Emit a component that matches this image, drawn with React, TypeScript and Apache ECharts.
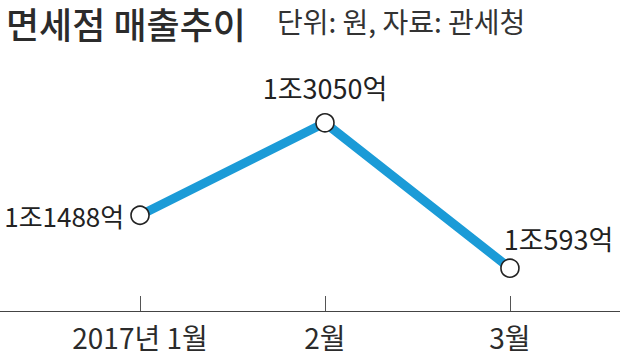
import React, { useEffect, useRef } from "react";
import * as echarts from "echarts";

const title = "면세점 매출추이";
const subtitle = "단위: 원, 자료: 관세청";
const categories = ["2017년 1월", "2월", "3월"];
const sales = [11488, 13050, 10593]; // 억원
const labelPositions = ["left", "top", "right"];

const FONT = "'Noto Sans CJK KR', sans-serif";

function fmt(v: number) {
  return `${Math.floor(v / 10000)}조${v % 10000}억`;
}

export default function App() {
  const ref = useRef<HTMLDivElement>(null);
  useEffect(() => {
    document.body.style.margin = "0";
    const chart = echarts.init(ref.current!, null, { renderer: "svg" });
    const idx = categories.map((_, i) => i);
    chart.setOption({
      animation: false,
      backgroundColor: "#ffffff",
      title: {
        text: title,
        left: 6,
        top: 4,
        padding: 0,
        textStyle: {
          fontFamily: FONT,
          fontSize: 36,
          fontWeight: 500,
          color: "#2b2b2b",
          lineHeight: 38,
        },
      },
      graphic: [
        {
          type: "text",
          left: 277,
          top: 7,
          style: {
            text: subtitle,
            fontFamily: FONT,
            fontSize: 28,
            fill: "#333333",
          },
        },
      ],
      grid: { left: 0, right: 0, top: 40, bottom: 46 },
      xAxis: {
        type: "value",
        min: -0.757,
        max: 2.595,
        splitLine: { show: false },
        axisLine: { show: true, onZero: false, lineStyle: { color: "#444", width: 1.2 } },
        axisTick: {
          show: true,
          inside: true,
          length: 15,
          customValues: idx,
          lineStyle: { color: "#555", width: 1 },
        },
        axisLabel: {
          customValues: idx,
          formatter: (v: number) => categories[Math.round(v)] ?? "",
          fontFamily: FONT,
          fontSize: 28,
          color: "#2b2b2b",
          margin: 12,
        },
      },
      yAxis: {
        type: "value",
        min: 9870,
        max: 14450,
        show: false,
        splitLine: { show: false },
      },
      series: [
        {
          type: "line",
          data: sales.map((v, i) => ({
            value: [i, v],
            label: {
              show: true,
              position: labelPositions[i],
              distance: i === 1 ? 12 : i === 0 ? 6 : 6,
              fontSize: i === 0 ? 26 : 27,
              offset: i === 2 ? [-22, -30] : [0, 0],
              formatter: () => fmt(v),
            },
          })),
          lineStyle: { color: "#1b9bd7", width: 9 },
          symbol: "circle",
          symbolSize: 18,
          itemStyle: { color: "#ffffff", borderColor: "#222", borderWidth: 1.6 },
          label: {
            fontFamily: FONT,
            fontSize: 27,
            color: "#222",
          },
          z: 3,
        },
      ],
    });
    return () => chart.dispose();
  }, []);
  return <div ref={ref} style={{ width: 620, height: 357 }} />;
}
